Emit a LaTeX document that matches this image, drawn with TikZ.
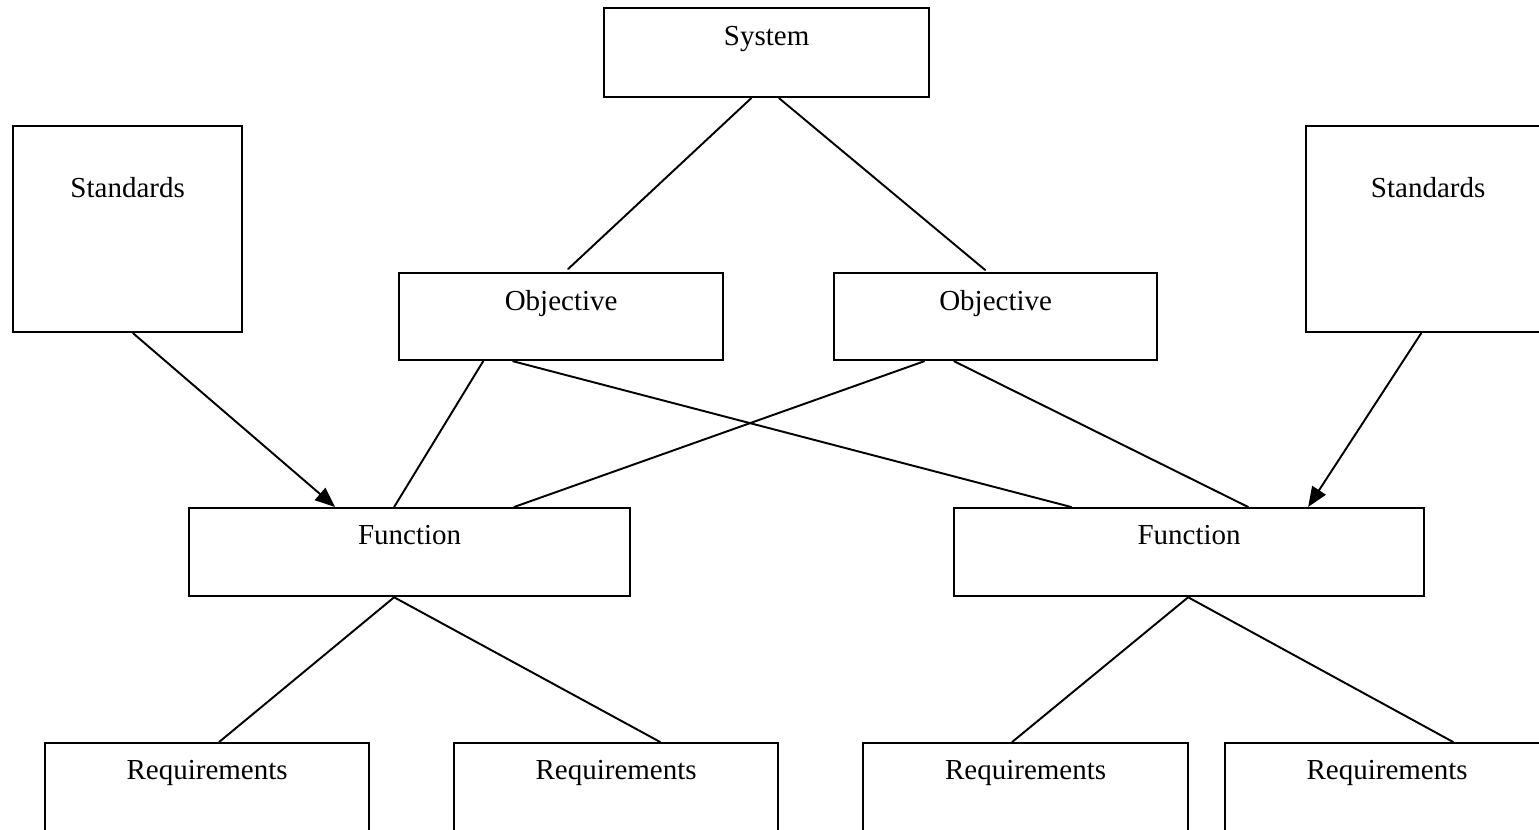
\documentclass[tikz,border=0pt]{standalone}
\usepackage{fontspec}
\setmainfont{Liberation Serif}
\usepackage{tikz}
\usetikzlibrary{arrows.meta,calc}
\newcommand{\pxu}{0.02cm}
\tikzset{
  blk/.style={draw=black, line width=1.3pt, fill=white, anchor=north west, inner sep=0pt},
  lbl/.style={anchor=base, inner sep=0pt, font=\fontsize{16.5}{20}\selectfont},
  link/.style={line width=1.1pt, line cap=round}
}

\begin{document}
\begin{tikzpicture}[x=0.02cm, y=-0.02cm, >={Triangle[length=0.4cm, width=0.32cm]}]
    \useasboundingbox (0,0) rectangle (1539,830);
    \clip (0,0) rectangle (1539,830);

    % Boxes
    \node[blk, minimum width=325*\pxu, minimum height=89*\pxu] (sys) at (603,7) {};
    \node[blk, minimum width=229*\pxu, minimum height=206*\pxu] (stdL) at (12,125) {};
    \node[blk, minimum width=244*\pxu, minimum height=206*\pxu] (stdR) at (1305,125) {};
    \node[blk, minimum width=324*\pxu, minimum height=87*\pxu] (objL) at (398,272) {};
    \node[blk, minimum width=323*\pxu, minimum height=87*\pxu] (objR) at (833,272) {};
    \node[blk, minimum width=441*\pxu, minimum height=88*\pxu] (funL) at (188,507) {};
    \node[blk, minimum width=470*\pxu, minimum height=88*\pxu] (funR) at (953,507) {};
    \node[blk, minimum width=324*\pxu, minimum height=90*\pxu] (reqA) at (44,742) {};
    \node[blk, minimum width=324*\pxu, minimum height=90*\pxu] (reqB) at (453,742) {};
    \node[blk, minimum width=325*\pxu, minimum height=90*\pxu] (reqC) at (862,742) {};
    \node[blk, minimum width=324*\pxu, minimum height=90*\pxu] (reqD) at (1224,742) {};

    % Labels
    \node[lbl] (sys-t) at ($(sys.north)+(0,39)$) {System};
    \node[lbl] (stdL-t) at ($(stdL.north)+(0,73)$) {Standards};
    \node[lbl] (stdR-t) at ($(stdR.north)+(0,73)$) {Standards};
    \node[lbl] (objL-t) at ($(objL.north)+(0,39)$) {Objective};
    \node[lbl] (objR-t) at ($(objR.north)+(0,39)$) {Objective};
    \node[lbl] (funL-t) at ($(funL.north)+(0,38)$) {Function};
    \node[lbl] (funR-t) at ($(funR.north)+(0,38)$) {Function};
    \node[lbl] (reqA-t) at ($(reqA.north)+(0,38)$) {Requirements};
    \node[lbl] (reqB-t) at ($(reqB.north)+(0,38)$) {Requirements};
    \node[lbl] (reqC-t) at ($(reqC.north)+(0,38)$) {Requirements};
    \node[lbl] (reqD-t) at ($(reqD.north)+(0,38)$) {Requirements};

    % System to objectives
    \draw[link] ($(sys.south)+(-15.5,0)$) -- ($(objL.north)+(7,-3)$);
    \draw[link] ($(sys.south)+(12.5,0)$) -- ($(objR.north)+(-10.5,-2)$);

    % Objectives to functions
    \draw[link] ($(objL.south)+(-78,0)$) -- ($(funL.north)+(-15.5,0)$);
    \draw[link] ($(objL.south)+(-48,0)$) -- ($(funR.north)+(-118,0)$);
    \draw[link] ($(objR.south)+(-71.5,0)$) -- ($(funL.north)+(104.5,0)$);
    \draw[link] ($(objR.south)+(-41.5,0)$) -- ($(funR.north)+(59,0)$);

    % Standards into functions
    \draw[link, ->] ($(stdL.south)+(5.5,0)$) -- ($(funL.north)+(-74.5,0)$);
    \draw[link, ->] ($(stdR.south)+(-7,0)$) -- ($(funR.north)+(119,0)$);

    % Functions to requirements
    \draw[link] ($(funL.south)+(-15.5,0)$) -- ($(reqA.north)+(12,0)$);
    \draw[link] ($(funL.south)+(-15.5,0)$) -- ($(reqB.north)+(44,0)$);
    \draw[link] ($(funR.south)+(-1,0)$) -- ($(reqC.north)+(-13.5,0)$);
    \draw[link] ($(funR.south)+(-1,0)$) -- ($(reqD.north)+(66,0)$);
\end{tikzpicture}
\end{document}
